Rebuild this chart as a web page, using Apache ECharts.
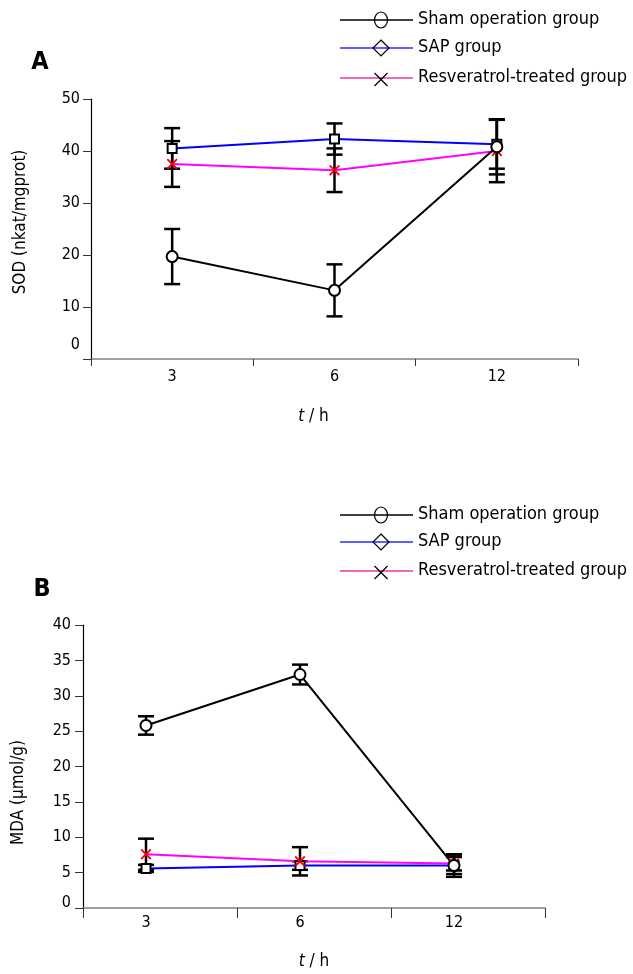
<!DOCTYPE html>
<html><head><meta charset="utf-8">
<script src="https://cdn.jsdelivr.net/npm/echarts@6/dist/echarts.min.js"></script>
<style>html,body{margin:0;padding:0;background:#fff}#c{width:633px;height:974px}</style>
</head><body><div id="c"></div>
<script>
const categories = ['3', '6', '12'];
const seriesNames = ['Sham operation group', 'SAP group', 'Resveratrol-treated group'];
// Panel A: SOD (nkat/mgprot)
const sodSham = [19.7, 13.2, 40.8];
const sodShamErr = [5.3, 5.0, 5.3];
const sodSap = [40.5, 42.3, 41.3];
const sodSapErr = [3.9, 3.0, 4.7];
const sodRes = [37.5, 36.3, 40.0];
const sodResErr = [4.4, 4.2, 6.0];
// Panel B: MDA (umol/g)
const mdaSham = [25.8, 33.0, 6.0];
const mdaShamErr = [1.3, 1.4, 1.6];
const mdaSap = [5.6, 6.0, 6.0];
const mdaSapErr = [0.5, 0.6, 1.2];
const mdaRes = [7.6, 6.6, 6.3];
const mdaResErr = [2.2, 2.0, 1.0];
const sodAxis = {min: 0, max: 50, interval: 10};
const mdaAxis = {min: 0, max: 40, interval: 5};

const FONT = "'DejaVu Sans Condensed', 'DejaVu Sans', sans-serif";
const lineColors = ['#000000', '#0000ff', '#ff00ff'];
const legendLineColors = ['#000000', '#2b2bff', '#e8399a'];
const xPath = 'path://M0,1.2 L1.2,0 L5,3.8 L8.8,0 L10,1.2 L6.2,5 L10,8.8 L8.8,10 L5,6.2 L1.2,10 L0,8.8 L3.8,5 Z';

const chart = echarts.init(document.getElementById('c'), null, {renderer: 'canvas'});

function errRender(params, api) {
  const x = api.value(0), y = api.value(1), e = api.value(2);
  const top = api.coord([x, y + e]), bot = api.coord([x, y - e]);
  const w = 8;
  const st = {stroke: '#000', lineWidth: 2.5};
  return {type: 'group', children: [
    {type: 'line', shape: {x1: top[0], y1: top[1], x2: bot[0], y2: bot[1]}, style: st},
    {type: 'line', shape: {x1: top[0] - w, y1: top[1], x2: top[0] + w, y2: top[1]}, style: st},
    {type: 'line', shape: {x1: bot[0] - w, y1: bot[1], x2: bot[0] + w, y2: bot[1]}, style: st}
  ]};
}

function errSeries(vals, errs, xi, yi) {
  return {
    type: 'custom', xAxisIndex: xi, yAxisIndex: yi, z: 2,
    renderItem: errRender,
    encode: {x: 0, y: 1},
    data: vals.map((v, i) => [categories[i], v, errs[i]]),
    silent: true
  };
}

function lineSeries(idx, vals, xi, yi) {
  const sym = [
    {symbol: 'emptyCircle', symbolSize: 11, itemStyle: {color: '#000', borderWidth: 2}},
    {symbol: 'emptyRect', symbolSize: 9, itemStyle: {color: '#000', borderWidth: 2}},
    {symbol: xPath, symbolSize: 11, itemStyle: {color: '#ff0000'}}
  ][idx];
  return Object.assign({
    type: 'line', name: seriesNames[idx], xAxisIndex: xi, yAxisIndex: yi, z: 3,
    data: vals,
    lineStyle: {color: lineColors[idx], width: 2},
    showSymbol: true, animation: false
  }, sym);
}

function yLabelFmt(v) { return v === 0 ? '{z|0}' : String(v); }

function legendGraphics(rows) {
  const els = [];
  rows.forEach((y, i) => {
    els.push({type: 'line', shape: {x1: 340, y1: y, x2: 413, y2: y}, style: {stroke: legendLineColors[i], lineWidth: 1.5}});
    const cx = 381;
    if (i === 0) {
      els.push({type: 'ellipse', shape: {cx: cx, cy: y, rx: 6.5, ry: 8}, style: {fill: 'none', stroke: '#000', lineWidth: 1.2}});
    } else if (i === 1) {
      els.push({type: 'polygon', shape: {points: [[cx, y - 8], [cx + 8, y], [cx, y + 8], [cx - 8, y]]}, style: {fill: 'none', stroke: '#000', lineWidth: 1.2}});
    } else {
      els.push({type: 'line', shape: {x1: cx - 6.5, y1: y - 5, x2: cx + 6.5, y2: y + 8}, style: {stroke: '#000', lineWidth: 1.2}});
      els.push({type: 'line', shape: {x1: cx - 6.5, y1: y + 8, x2: cx + 6.5, y2: y - 5}, style: {stroke: '#000', lineWidth: 1.2}});
    }
    els.push({type: 'text', x: 418, y: y - 1, style: {text: seriesNames[i], font: '18px ' + FONT, fill: '#000', verticalAlign: 'middle', align: 'left'}});
  });
  return els;
}

const baseX = {
  type: 'category', data: categories, boundaryGap: true,
  axisLine: {lineStyle: {color: '#808080', width: 1.5}},
  axisTick: {show: true, length: 8, lineStyle: {color: '#333', width: 1}},
  axisLabel: {color: '#000', fontSize: 16, fontFamily: FONT},
  splitLine: {show: false},
  nameLocation: 'middle',
  nameTextStyle: {color: '#000', fontSize: 17, fontFamily: FONT, rich: {i: {fontStyle: 'italic', fontSize: 17, fontFamily: FONT}}}
};
const baseY = {
  type: 'value',
  axisLine: {show: true, lineStyle: {color: '#000', width: 1.2}},
  axisTick: {show: true, length: 8, lineStyle: {color: '#333', width: 1}},
  splitLine: {show: false},
  nameLocation: 'middle', nameRotate: 90,
  nameTextStyle: {color: '#000', fontSize: 17, fontFamily: FONT}
};

const option = {
  animation: false,
  backgroundColor: '#fff',
  grid: [
    {left: 91, top: 99, width: 487, height: 260},
    {left: 83, top: 625, width: 462, height: 283},
    {left: 69, top: 625, width: 462, height: 283}
  ],
  xAxis: [
    Object.assign({}, baseX, {gridIndex: 0, name: '{i|t} / h', nameGap: 49,
      nameTextStyle: Object.assign({}, baseX.nameTextStyle, {padding: [0, 42, 0, 0]}),
      axisLabel: Object.assign({}, baseX.axisLabel, {margin: 10}), axisTick: Object.assign({}, baseX.axisTick, {length: 7})}),
    Object.assign({}, baseX, {gridIndex: 1, name: '{i|t} / h', nameGap: 45,
      axisLabel: {show: false}, axisTick: Object.assign({}, baseX.axisTick, {length: 10})}),
    Object.assign({}, baseX, {gridIndex: 2, axisLine: {show: false}, axisTick: {show: false},
      axisLabel: Object.assign({}, baseX.axisLabel, {margin: 7})})
  ],
  yAxis: [
    Object.assign({}, baseY, sodAxis, {gridIndex: 0, name: 'SOD (nkat/mgprot)', nameGap: 62,
      nameTextStyle: Object.assign({}, baseY.nameTextStyle, {padding: [0, 0, 0, 14]}),
      axisLabel: {color: '#000', fontSize: 16, fontFamily: FONT, margin: 11, formatter: yLabelFmt,
        rich: {z: {fontSize: 16, fontFamily: FONT, color: '#000', padding: [0, 0, 28, 0]}}}}),
    Object.assign({}, baseY, mdaAxis, {gridIndex: 1, name: 'MDA (μmol/g)', nameGap: 56,
      nameTextStyle: Object.assign({}, baseY.nameTextStyle, {padding: [0, 52, 0, 0]}),
      axisLabel: {color: '#000', fontSize: 16, fontFamily: FONT, margin: 12, formatter: yLabelFmt,
        rich: {z: {fontSize: 16, fontFamily: FONT, color: '#000', padding: [0, 0, 10, 0]}}}}),
    Object.assign({}, baseY, mdaAxis, {gridIndex: 2, show: false})
  ],
  graphic: [
    {type: 'text', x: 40, y: 62, style: {text: 'A', font: 'bold 25px ' + FONT, fill: '#000', align: 'center', verticalAlign: 'middle'}},
    {type: 'text', x: 42, y: 589, style: {text: 'B', font: 'bold 25px ' + FONT, fill: '#000', align: 'center', verticalAlign: 'middle'}}
  ].concat(legendGraphics([20, 48, 78])).concat(legendGraphics([515, 542, 571])),
  series: [
    errSeries(sodSham, sodShamErr, 0, 0),
    errSeries(sodSap, sodSapErr, 0, 0),
    errSeries(sodRes, sodResErr, 0, 0),
    lineSeries(1, sodSap, 0, 0),
    lineSeries(2, sodRes, 0, 0),
    lineSeries(0, sodSham, 0, 0),
    errSeries(mdaSham, mdaShamErr, 2, 2),
    errSeries(mdaSap, mdaSapErr, 2, 2),
    errSeries(mdaRes, mdaResErr, 2, 2),
    lineSeries(1, mdaSap, 2, 2),
    lineSeries(2, mdaRes, 2, 2),
    lineSeries(0, mdaSham, 2, 2)
  ]
};
chart.setOption(option);
</script>
</body></html>
